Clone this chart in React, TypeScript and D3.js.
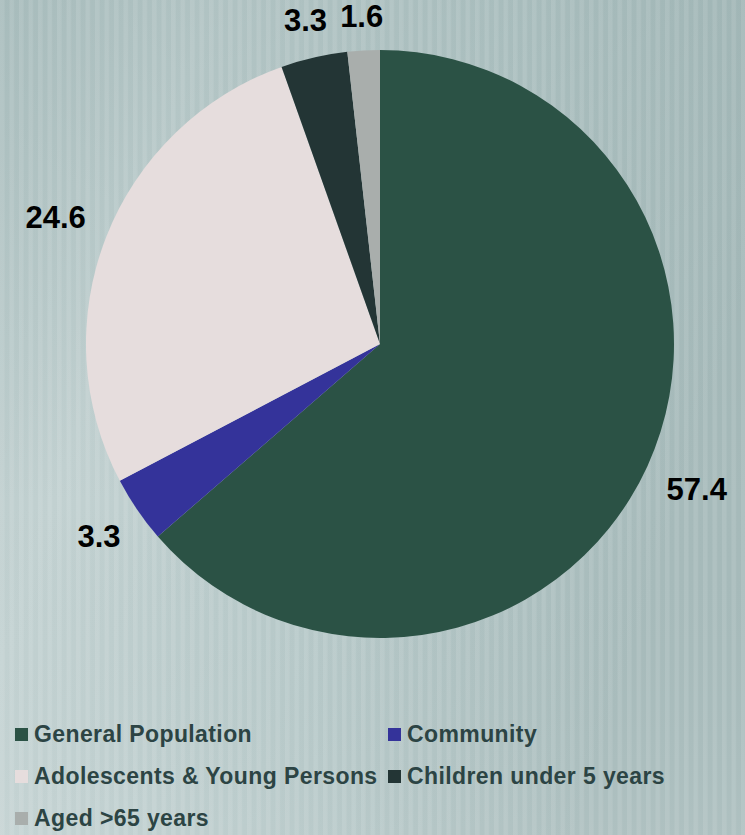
import React from "react";
import * as d3 from "d3";

const categories = ["General Population", "Community", "Adolescents & Young Persons", "Children under 5 years", "Aged >65 years"];
const values = [57.4, 3.3, 24.6, 3.3, 1.6];
const colors = ["#2b5245", "#34339a", "#e6dddd", "#233535", "#a9aeac"];

const W = 745, H = 835;
const cx = 380, cy = 344, R = 294;
const FONT = "'Liberation Sans', Arial, sans-serif";

// approximate Arial bold advance widths (em) for digits and dot
const charW: Record<string, number> = { ".": 0.278 };

export default function App() {
  const pie = d3.pie<number>().sort(null).value((d) => d);
  const arcs = pie(values);
  const arc = d3.arc<d3.PieArcDatum<number>>().innerRadius(0).outerRadius(R);
  const fontSize = 31;
  const labels = arcs.map((a, i) => {
    const mid = (a.startAngle + a.endAngle) / 2;
    const ux = Math.sin(mid), uy = -Math.cos(mid);
    const txt = values[i].toFixed(1);
    const w = txt.split("").reduce((s, ch) => s + (charW[ch] ?? 0.556), 0) * fontSize;
    const h = 23;
    const dist = R + 22 + Math.abs(ux) * w / 2 + Math.abs(uy) * h / 2;
    return { x: cx + ux * dist, y: cy + uy * dist, txt };
  });
  const legendPos = [
    [15, 735], [388, 735], [15, 777], [388, 777], [15, 819],
  ];
  return (
    <svg width={W} height={H} style={{ position: "absolute", left: 0, top: 0 }}>
      <defs>
        <linearGradient id="bg" x1="0" y1="0" x2="1" y2="0.35">
          <stop offset="0" stopColor="#b4c6c6" />
          <stop offset="0.25" stopColor="#c2d1d1" />
          <stop offset="0.6" stopColor="#b6c8c8" />
          <stop offset="1" stopColor="#a6baba" />
        </linearGradient>
        <linearGradient id="bgv" x1="0" y1="0" x2="0" y2="1">
          <stop offset="0" stopColor="#8fa8a8" stopOpacity="0.35" />
          <stop offset="0.6" stopColor="#8fa8a8" stopOpacity="0" />
          <stop offset="1" stopColor="#ffffff" stopOpacity="0.1" />
        </linearGradient>
        <pattern id="stripes" width="9.5" height="10" patternUnits="userSpaceOnUse">
          <rect x="0" y="0" width="4.5" height="10" fill="#ffffff" fillOpacity="0.1" />
        </pattern>
      </defs>
      <rect width={W} height={H} fill="url(#bg)" />
      <rect width={W} height={H} fill="url(#bgv)" />
      <rect width={W} height={H} fill="url(#stripes)" />
      <g transform={`translate(${cx},${cy})`}>
        {arcs.map((a, i) => (
          <path key={i} d={arc(a) || ""} fill={colors[i]} />
        ))}
      </g>
      {labels.map((l, i) => (
        <text key={i} x={l.x} y={l.y + 11} textAnchor="middle"
          fontFamily={FONT} fontWeight="bold" fontSize={fontSize} fill="#000">
          {l.txt}
        </text>
      ))}
      {categories.map((c, i) => (
        <g key={c}>
          <rect x={legendPos[i][0]} y={legendPos[i][1] - 7} width={13} height={13} fill={colors[i]} />
          <text x={legendPos[i][0] + 19} y={legendPos[i][1] + 7}
            fontFamily={FONT} fontWeight="bold" fontSize={23} letterSpacing={0.4} fill="#2c4444">
            {c}
          </text>
        </g>
      ))}
    </svg>
  );
}
